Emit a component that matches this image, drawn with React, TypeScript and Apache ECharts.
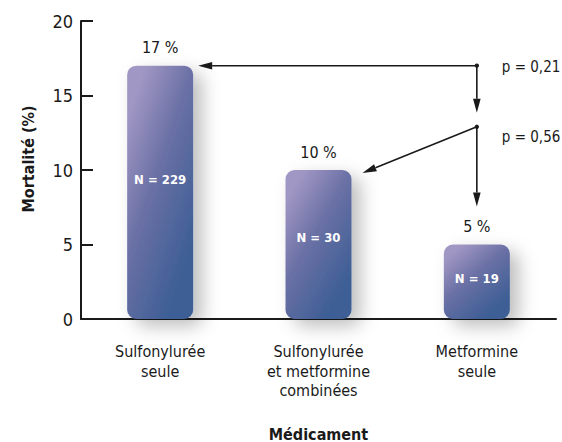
import React, { useEffect, useRef } from "react";
import * as echarts from "echarts";

// Mortality by treatment group
const categories = [
  "Sulfonylurée\nseule",
  "Sulfonylurée\net metformine\ncombinées",
  "Metformine\nseule",
];
const mortality = [17, 10, 5];
const patients = [229, 30, 19];
const pValues = ["p = 0,21", "p = 0,56"];
// levels (in %) of the two comparison branch points, both above the third group
const branchLevels = [17, 12.9];

const FONT = "'Liberation Sans Narrow', 'DejaVu Sans Condensed', 'Arial Narrow', sans-serif";
const INK = "#1a1a1a";
const BAR_W = 66;

export default function App() {
  const ref = useRef<HTMLDivElement>(null);

  useEffect(() => {
    document.body.style.margin = "0";
    const chart = echarts.init(ref.current!, null, { renderer: "svg" });

    const barFill = new echarts.graphic.LinearGradient(0, 0.2, 0.6, 1, [
      { offset: 0, color: "#a197c4" },
      { offset: 0.45, color: "#6a70a5" },
      { offset: 1, color: "#3d5f95" },
    ]);

    chart.setOption({
      animation: false,
      textStyle: { fontFamily: FONT, color: INK },
      grid: {
        left: 81,
        right: 6,
        top: 21,
        bottom: 123,
        containLabel: false,
        outerBoundsMode: "none",
      },
      xAxis: {
        type: "category",
        data: categories,
        axisLine: { lineStyle: { color: INK, width: 2 } },
        axisTick: { show: false },
        axisLabel: {
          color: INK,
          fontFamily: FONT,
          fontSize: 16,
          lineHeight: 19.5,
          margin: 23,
          interval: 0,
        },
        name: "Médicament",
        nameLocation: "middle",
        nameGap: 107,
        nameTextStyle: { color: INK, fontFamily: FONT, fontSize: 16, fontWeight: "bold" },
      },
      yAxis: {
        type: "value",
        min: 0,
        max: 20,
        interval: 5,
        axisLine: { show: true, lineStyle: { color: INK, width: 2 } },
        axisTick: { show: true, inside: true, length: 12, lineStyle: { color: INK, width: 2 } },
        axisLabel: { color: INK, fontFamily: FONT, fontSize: 18, margin: 8 },
        splitLine: { show: false },
        name: "Mortalité (%)",
        nameLocation: "middle",
        nameGap: 45,
        nameTextStyle: {
          color: INK,
          fontFamily: FONT,
          fontSize: 16,
          fontWeight: "bold",
          padding: [0, 0, 0, 22],
        },
      },
      series: [
        {
          type: "bar",
          barWidth: BAR_W,
          data: mortality.map((v, i) => ({ value: v, n: patients[i] })),
          itemStyle: {
            color: barFill,
            borderRadius: 9,
            shadowBlur: 18,
            shadowColor: "rgba(0,0,0,0.26)",
            shadowOffsetX: 9,
            shadowOffsetY: 7,
          },
          label: {
            show: true,
            position: "top",
            distance: 10,
            formatter: (p: any) => `${p.value} %`,
            color: INK,
            fontFamily: FONT,
            fontSize: 16,
          },
        },
        {
          // patient counts written inside the bars
          type: "bar",
          barWidth: BAR_W,
          barGap: "-100%",
          silent: true,
          data: mortality,
          itemStyle: { color: "transparent" },
          label: {
            show: true,
            position: ["50%", "45%"],
            align: "center",
            verticalAlign: "middle",
            formatter: (p: any) => `N = ${patients[p.dataIndex]}`,
            color: "#ffffff",
            fontFamily: FONT,
            fontSize: 13,
            fontWeight: "bold",
          },
        },
      ],
    });

    const px = (c: number, v: number) =>
      chart.convertToPixel({ gridIndex: 0 }, [c, v]) as number[];

    const stroke = { stroke: INK, lineWidth: 1.6 };
    const arrow = (x1: number, y1: number, x2: number, y2: number) => {
      const dx = x2 - x1;
      const dy = y2 - y1;
      const len = Math.hypot(dx, dy);
      const ux = dx / len;
      const uy = dy / len;
      const hl = 14;
      const hw = 3.8;
      const bx = x2 - ux * hl;
      const by = y2 - uy * hl;
      return [
        { type: "line", shape: { x1, y1, x2: bx, y2: by }, style: stroke, z: 10 },
        {
          type: "polygon",
          shape: {
            points: [
              [x2, y2],
              [bx - uy * hw, by + ux * hw],
              [bx + uy * hw, by - ux * hw],
            ],
          },
          style: { fill: INK },
          z: 10,
        },
      ];
    };

    const n1 = px(2, branchLevels[0]);
    const n2 = px(2, branchLevels[1]);
    const top0 = px(0, mortality[0]);
    const top1 = px(1, mortality[1]);
    const top2 = px(2, mortality[2]);

    const elements: any[] = [
      ...arrow(n1[0], n1[1], top0[0] + BAR_W / 2 + 5, n1[1]),
      ...arrow(n1[0], n1[1], n1[0], n2[1] - 14),
      ...arrow(n2[0], n2[1], top1[0] + BAR_W / 2 + 11, top1[1] + 3),
      ...arrow(n2[0], n2[1], n2[0], top2[1] - 38),
      { type: "circle", shape: { cx: n1[0], cy: n1[1], r: 2.2 }, style: { fill: INK }, z: 11 },
      { type: "circle", shape: { cx: n2[0], cy: n2[1], r: 2.2 }, style: { fill: INK }, z: 11 },
      {
        type: "text",
        x: n1[0] + 25,
        y: n1[1] + 1,
        style: {
          text: pValues[0],
          fill: INK,
          font: `15px ${FONT}`,
          verticalAlign: "middle",
        },
        z: 11,
      },
      {
        type: "text",
        x: n2[0] + 25,
        y: n2[1] + 10,
        style: {
          text: pValues[1],
          fill: INK,
          font: `15px ${FONT}`,
          verticalAlign: "middle",
        },
        z: 11,
      },
    ];
    chart.setOption({ graphic: elements });

    return () => chart.dispose();
  }, []);

  return <div ref={ref} style={{ width: 562, height: 442 }} />;
}
